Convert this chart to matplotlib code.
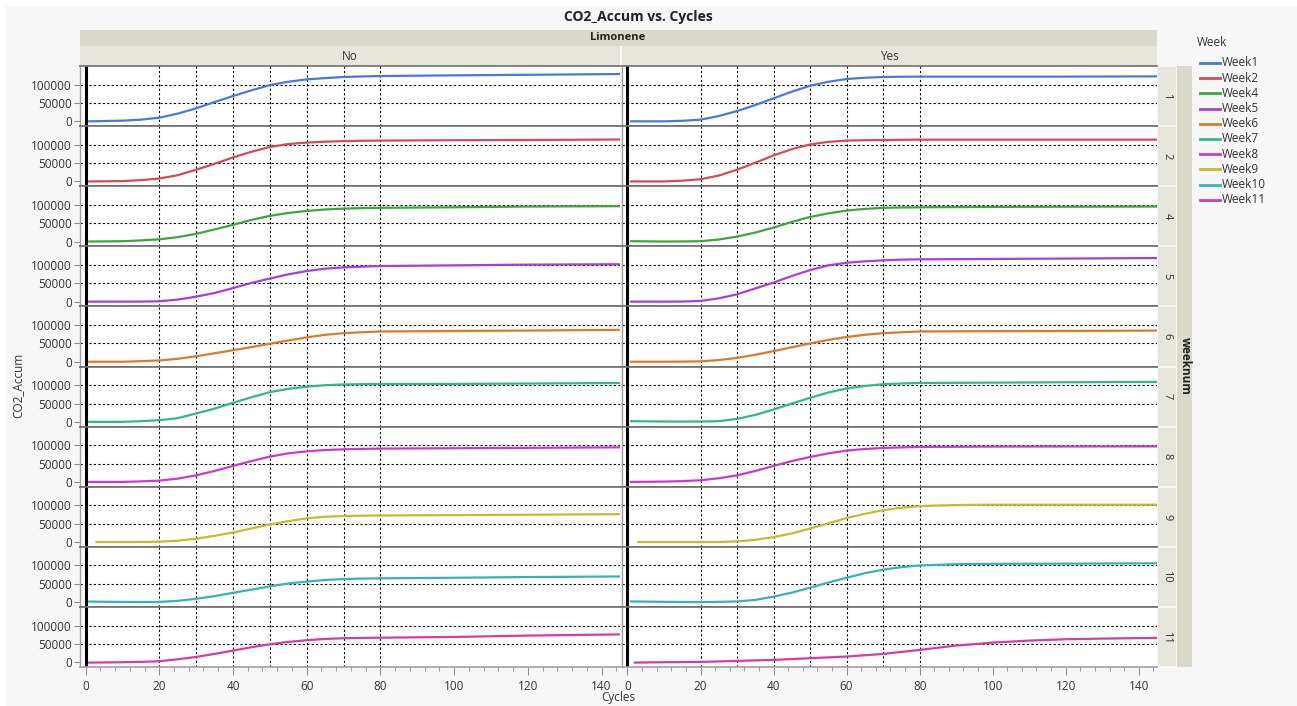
import numpy as np
import matplotlib
matplotlib.use("Agg")
import matplotlib.pyplot as plt
from matplotlib.patches import Rectangle
from matplotlib.lines import Line2D
from matplotlib.ticker import MultipleLocator

plt.rcParams['font.family'] = ['Open Sans', 'DejaVu Sans']

# --- data ---
weeks = ['Week1', 'Week2', 'Week4', 'Week5', 'Week6', 'Week7', 'Week8', 'Week9', 'Week10', 'Week11']
weeknum = ['1', '2', '4', '5', '6', '7', '8', '9', '10', '11']
limonene = ['No', 'Yes']
colors = ['#4a78dc', '#d6495a', '#3aa83a', '#a53fe0', '#dc7a2c',
          '#2fb98c', '#c93bd0', '#c4bd2b', '#35b4b6', '#d73c9f']

cyc_a = [1, 10, 15, 20, 25, 30, 35, 40, 45, 50, 55, 60, 65, 70, 75, 80, 100, 120, 145]
cyc_b = [3, 10, 15, 20, 25, 30, 35, 40, 45, 50, 55, 60, 65, 70, 75, 80, 90, 100, 120, 145]
cyc_c = [1, 10, 15, 20, 25, 30, 35, 40, 45, 50, 55, 60, 65, 70, 75, 80, 90, 100, 120, 145]
cyc_d = [2, 10, 20, 30, 40, 50, 60, 70, 80, 90, 100, 110, 120, 130, 145]

w1_no = [0, 1800, 4500, 10000, 21000, 35500, 52700, 69000, 84500, 99000, 108000, 114500, 118000, 121000, 122500, 123600, 125500, 127000, 129000]
w1_yes = [0, 0, 1500, 4500, 14500, 28000, 44500, 62700, 81000, 97000, 108000, 115500, 119000, 121000, 121700, 122000, 122000, 122000, 122700]
w2_no = [0, 900, 3500, 8000, 17000, 32000, 48000, 65500, 81000, 94000, 102000, 106000, 108500, 110000, 111000, 111500, 112500, 113000, 114500]
w2_yes = [0, 0, 2000, 6000, 16000, 32000, 51000, 71000, 88000, 101000, 108000, 111500, 112500, 113000, 113600, 114000, 114000, 114000, 114000]
w4_no = [0, 900, 3000, 6000, 12000, 21000, 33000, 45500, 59000, 70000, 78000, 83500, 87500, 90000, 91200, 92000, 93500, 95500, 96500]
w4_yes = [900, 0, 200, 900, 5500, 13500, 24500, 38000, 53600, 67000, 77000, 84500, 89000, 92000, 93000, 93500, 94500, 95000, 95500]
w5_no = [0, 0, 200, 900, 5500, 13500, 23500, 37000, 51000, 63000, 74500, 83500, 90000, 93500, 95500, 97000, 99000, 101000, 102000]
w5_yes = [0, 0, 300, 1800, 9000, 20000, 36000, 52000, 70000, 86000, 99000, 106000, 110000, 112700, 114500, 115500, 116500, 117500, 119000]
w6_no = [0, 0, 1500, 3500, 8000, 15000, 23000, 31500, 40000, 49000, 58000, 66500, 73500, 78000, 80500, 82500, 84000, 85000, 87000]
w6_yes = [0, 0, 300, 1000, 4500, 10500, 19000, 29000, 39500, 50000, 59500, 67500, 73500, 78000, 80500, 82500, 83500, 84000, 85000]
w7_no = [0, 0, 1800, 4500, 10000, 22700, 36000, 52000, 67000, 81000, 90000, 96000, 100000, 102000, 102700, 103000, 103500, 104500, 106000]
w7_yes = [1800, 900, 800, 900, 1800, 8000, 19000, 33600, 50000, 65500, 80000, 91000, 98000, 102700, 104700, 106000, 107000, 108000, 109000]
w8_no = [0, 0, 1500, 3600, 9000, 18000, 30000, 43600, 57000, 69000, 78000, 83500, 87000, 89000, 90200, 91000, 92000, 93000, 94500]
w8_yes = [0, 900, 2200, 4500, 10000, 18000, 30000, 43600, 57000, 68000, 78000, 85500, 90000, 92700, 94300, 95500, 96500, 96800, 97000]
w9_no = [0, 0, 200, 900, 3600, 9000, 17000, 26000, 37000, 48000, 57000, 64500, 69000, 71000, 72000, 72500, 73000, 73500, 74500, 76000]
w9_yes = [0, 0, 0, 0, 0, 1800, 6000, 13500, 23500, 37000, 51000, 65500, 77000, 87000, 93600, 98000, 101000, 102000, 102000, 102000]
w10_no = [1500, 500, 300, 500, 3500, 9000, 16500, 25500, 34000, 43000, 51000, 56000, 60500, 63000, 64200, 65000, 65800, 66500, 68500, 70000]
w10_yes = [1800, 900, 300, 0, 900, 1800, 6000, 15000, 26000, 39500, 53500, 66500, 79000, 88500, 95500, 100000, 103500, 104500, 105000, 106000]
w11_no = [-1000, 0, 1000, 2700, 8000, 14500, 22700, 31800, 41000, 49000, 55500, 60000, 63600, 65500, 66300, 67000, 69000, 72700, 76000]
w11_yes = [-900, 0, 900, 3600, 6300, 11000, 15500, 22700, 33600, 45500, 53600, 59000, 62700, 64500, 66500]

series = [
    ((cyc_a, w1_no), (cyc_a, w1_yes)),
    ((cyc_a, w2_no), (cyc_a, w2_yes)),
    ((cyc_a, w4_no), (cyc_a, w4_yes)),
    ((cyc_a, w5_no), (cyc_a, w5_yes)),
    ((cyc_a, w6_no), (cyc_a, w6_yes)),
    ((cyc_a, w7_no), (cyc_a, w7_yes)),
    ((cyc_a, w8_no), (cyc_a, w8_yes)),
    ((cyc_b, w9_no), (cyc_b, w9_yes)),
    ((cyc_c, w10_no), (cyc_c, w10_yes)),
    ((cyc_a, w11_no), (cyc_d, w11_yes)),
]

# --- layout (pixels) ---
W, H = 1297, 706
fig = plt.figure(figsize=(W / 100, H / 100), dpi=100)
fig.patch.set_facecolor('white')


def box(x0, y0, x1, y1):
    return [x0 / W, 1 - y1 / H, (x1 - x0) / W, (y1 - y0) / H]


def rect(x0, y0, x1, y1, color):
    b = box(x0, y0, x1, y1)
    fig.add_artist(Rectangle((b[0], b[1]), b[2], b[3], transform=fig.transFigure,
                             facecolor=color, edgecolor='none', zorder=0))


rect(6, 6, W, H, '#f7f7f7')

col_x = [(80, 620), (622, 1157)]
top, row_h = 66, 60.1
strip_dark = '#dad9cb'
strip_light = '#e7e6dd'

for r in range(len(weeks)):
    y0 = top + r * row_h
    for c in range(2):
        x0, x1 = col_x[c]
        ax = fig.add_axes(box(x0, y0, x1, y0 + row_h))
        ax.set_facecolor('white')
        cx, cy = series[r][c]
        ax.plot(cx, cy, color=colors[r], lw=1.6, zorder=3)
        ax.set_xlim(-1.5, 145)
        ax.set_ylim(-13000, 151000)
        for v in [50000, 100000]:
            ax.axhline(v, color='black', ls=(0, (2, 2)), lw=0.8, zorder=1)
        for v in range(20, 81, 10):
            ax.axvline(v, color='black', ls=(0, (2, 2)), lw=0.8, zorder=1)
        ax.axvline(0, color='black', lw=2.2, zorder=2)
        for s in ['top', 'bottom']:
            ax.spines[s].set_color('#6e6e6e')
            ax.spines[s].set_linewidth(1.2)
        ax.spines['right'].set_visible(False)
        ax.spines['left'].set_color('#a0a0a0')
        ax.spines['left'].set_linewidth(1.0)
        ax.set_yticks([0, 50000, 100000])
        if c == 0:
            ax.set_yticklabels(['0', '50000', '100000'])
            ax.tick_params(axis='y', length=4, color='#909090', labelsize=8.5,
                           labelcolor='#333333', pad=2)
        else:
            ax.tick_params(axis='y', length=0, labelleft=False)
        if r == len(weeks) - 1:
            ax.xaxis.set_major_locator(MultipleLocator(20))
            ax.xaxis.set_minor_locator(MultipleLocator(4))
            ax.tick_params(axis='x', which='major', length=6, color='#909090',
                           labelsize=8.5, labelcolor='#333333', pad=3)
            ax.tick_params(axis='x', which='minor', length=3, color='#909090')
            ax.spines['bottom'].set_color('#a0a0a0')
        else:
            ax.set_xticks([])
    # row strip on the right
    rect(1158, y0 + 1, 1176, y0 + row_h - 1, strip_light)
    fig.text(1167 / W, 1 - (y0 + row_h / 2) / H, weeknum[r], rotation=270,
             ha='center', va='center', fontsize=8, color='#333333')

# top strips
rect(80, 30, 1157, 46, strip_dark)
fig.text(618 / W, 1 - 38 / H, 'Limonene', ha='center', va='center',
         fontsize=8, fontweight='bold', color='#222222')
for c in range(2):
    x0, x1 = col_x[c]
    rect(x0, 46, x1, 65, strip_light)
    fig.text((x0 + x1) / 2 / W, 1 - 56 / H, limonene[c], ha='center', va='center',
             fontsize=8.5, color='#333333')

# outer right strip
rect(1177, 66, 1192, 667, strip_dark)
fig.text(1185 / W, 1 - 366 / H, 'weeknum', rotation=270, ha='center', va='center',
         fontsize=8.5, fontweight='bold', color='#222222')

fig.text(638 / W, 1 - 17 / H, 'CO2_Accum vs. Cycles', ha='center', va='center',
         fontsize=10, fontweight='bold', color='#222222')
fig.text(18 / W, 1 - 385 / H, 'CO2_Accum', rotation=90, ha='center', va='center',
         fontsize=8.5, color='#333333')
fig.text(618 / W, 1 - 697 / H, 'Cycles', ha='center', va='center',
         fontsize=8.5, color='#333333')

# legend
fig.text(1197 / W, 1 - 42 / H, 'Week', ha='left', va='center',
         fontsize=8.5, color='#333333')
for i, (name, col) in enumerate(zip(weeks, colors)):
    yy = 1 - (63 + 15.2 * i) / H
    fig.add_artist(Line2D([1200 / W, 1220 / W], [yy, yy], color=col, lw=2,
                          transform=fig.transFigure))
    fig.text(1222 / W, yy, name, ha='left', va='center', fontsize=8.5,
             color='#333333')

fig.savefig('out.png', dpi=100, facecolor=fig.get_facecolor())
